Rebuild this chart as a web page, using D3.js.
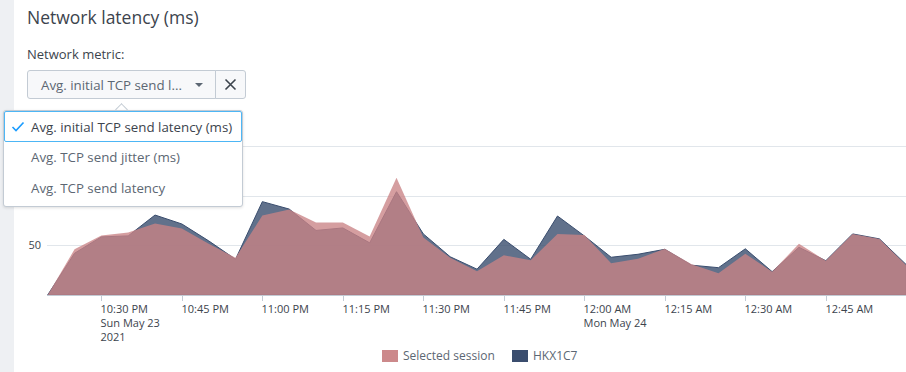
<!DOCTYPE html>
<html>
<head>
<meta charset="utf-8">
<script src="https://cdn.jsdelivr.net/npm/d3@7"></script>
<style>
body { margin: 0; width: 906px; height: 372px; overflow: hidden; background: #fff;
       font-family: "Open Sans", "Liberation Sans", sans-serif; color: #3c444d; position: relative; }
#strip { position: absolute; left: 0; top: 0; width: 14px; height: 372px; background: #eef0f3; }
#title { position: absolute; left: 27px; top: 5px; font-size: 17.5px; color: #3c444d; }
#metricLabel { position: absolute; left: 27px; top: 45px; font-size: 13px; color: #3c444d; }
.btn { position: absolute; top: 70px; height: 29px; border: 1px solid #c3cbd4; background: #f7f8fa;
       box-sizing: border-box; font-size: 13.3px; color: #5c6773; }
#select { left: 27px; width: 189px; border-radius: 3px 0 0 3px; }
#select span.t { position: absolute; left: 13px; top: 5px; }
#select span.c { position: absolute; left: 167px; top: 12px; width: 0; height: 0;
                 border-left: 4px solid transparent; border-right: 4px solid transparent; border-top: 4px solid #5c6773; }
#clear { left: 215px; width: 31px; border-radius: 0 3px 3px 0; }
#popup { position: absolute; left: 3px; top: 110px; width: 240px; height: 97px; box-sizing: border-box;
         background: #fff; border: 1px solid #c3cbd4; border-radius: 3px; box-shadow: 0 1px 3px rgba(0,0,0,0.12); }
#arrow { position: absolute; left: 117px; top: 105px; width: 8px; height: 8px; background: #fff;
         border-left: 1px solid #c3cbd4; border-top: 1px solid #c3cbd4; transform: rotate(45deg); }
.item { position: absolute; left: 0px; width: 238px; height: 31px; box-sizing: border-box;
        font-size: 13.3px; color: #5c6773; padding: 6px 0 0 27px; }
.item.sel { border: 1px solid #4db6f5; border-radius: 2px; color: #3c444d; padding-left: 26px; }
svg { position: absolute; left: 0; top: 0; }
</style>
</head>
<body>
<div id="strip"></div>
<svg id="chart" width="906" height="372"></svg>
<div id="title">Network latency (ms)</div>
<div id="metricLabel">Network metric:</div>
<div class="btn" id="select"><span class="t">Avg. initial TCP send l...</span><span class="c"></span></div>
<div class="btn" id="clear"><svg width="29" height="27" style="position:absolute;left:0;top:0">
  <path d="M9.5 8.5 L19.5 18.5 M19.5 8.5 L9.5 18.5" stroke="#3c444d" stroke-width="1.6"/></svg></div>
<div id="arrow"></div>
<div id="popup"></div>
<script>
// time buckets (5 min)
var times = ["2021-05-23 22:20","2021-05-23 22:25","2021-05-23 22:30","2021-05-23 22:35","2021-05-23 22:40",
  "2021-05-23 22:45","2021-05-23 22:50","2021-05-23 22:55","2021-05-23 23:00","2021-05-23 23:05",
  "2021-05-23 23:10","2021-05-23 23:15","2021-05-23 23:20","2021-05-23 23:25","2021-05-23 23:30",
  "2021-05-23 23:35","2021-05-23 23:40","2021-05-23 23:45","2021-05-23 23:50","2021-05-23 23:55",
  "2021-05-24 00:00","2021-05-24 00:05","2021-05-24 00:10","2021-05-24 00:15","2021-05-24 00:20",
  "2021-05-24 00:25","2021-05-24 00:30","2021-05-24 00:35","2021-05-24 00:40","2021-05-24 00:45",
  "2021-05-24 00:50","2021-05-24 00:55","2021-05-24 01:00"];
var selectedSession = [0, 46, 60, 63, 72, 67, 51.5, 37.5, 80, 86, 73, 73, 59, 118, 58, 37.5, 24, 40, 35, 61.5,
  60.5, 32, 36.5, 46.5, 31, 22, 41.5, 23.5, 51.5, 34.5, 61.5, 56.5, 30];
var hkx1c7 = [0, 42, 58.5, 59.5, 80.5, 71.5, 54.5, 36, 94, 86.5, 65, 67.5, 52.5, 104, 61.5, 38.5, 26, 56, 36, 79.5,
  59.5, 38, 41, 46, 30, 27.5, 46.5, 23.5, 48, 34.5, 61.5, 56.5, 30.5];
var gridValues = [50, 100, 150];
var yLabels = [50]; // 100 and 150 sit under the open menu
var seriesNames = ["Selected session", "HKX1C7"];
var seriesColors = ["#c98385", "#3a4d6e"];
var menuItems = ["Avg. initial TCP send latency (ms)", "Avg. TCP send jitter (ms)", "Avg. TCP send latency"];

var parse = d3.timeParse("%Y-%m-%d %H:%M");
var dates = times.map(parse);

var svg = d3.select("#chart");
var x = d3.scaleTime().domain([dates[0], dates[dates.length - 1]]).range([47.7, 906.3]);
var y = d3.scaleLinear().domain([0, 150]).range([295, 146]);

// gridlines + y labels
var grid = svg.append("g");
grid.selectAll("line").data(gridValues).join("line")
  .attr("x1", 47).attr("x2", 906)
  .attr("y1", function(d) { return Math.round(y(d)) + 0.5; }).attr("y2", function(d) { return Math.round(y(d)) + 0.5; })
  .attr("stroke", "#e1e6eb").attr("stroke-width", 1);
grid.selectAll("text").data(yLabels).join("text")
  .attr("x", 41).attr("y", function(d) { return y(d); }).attr("dy", "0.35em")
  .attr("text-anchor", "end").attr("font-size", 11).attr("fill", "#3c444d")
  .text(function(d) { return d; });

// areas: dark first, pink over it
var area = function(vals) {
  return d3.area()
    .x(function(d, i) { return x(dates[i]); })
    .y0(y(0))
    .y1(function(d) { return y(d); })(vals);
};
svg.append("path").attr("d", area(hkx1c7))
  .attr("fill", seriesColors[1]).attr("fill-opacity", 0.8)
  .attr("stroke", seriesColors[1]).attr("stroke-width", 1);
svg.append("path").attr("d", area(selectedSession))
  .attr("fill", seriesColors[0]).attr("fill-opacity", 0.78);

// x axis
var end = dates[dates.length - 1];
var xTicks = x.ticks(d3.timeMinute.every(15)).filter(function(d) { return d < end; });
var fmt = d3.timeFormat("%-I:%M %p");
var xa = svg.append("g");
xa.append("line").attr("x1", 47).attr("x2", 906).attr("y1", 295.5).attr("y2", 295.5)
  .attr("stroke", "#c3cbd4");
var tk = xa.selectAll("g").data(xTicks).join("g")
  .attr("transform", function(d) { return "translate(" + Math.round(x(d)) + ".5,0)"; });
tk.append("line").attr("y1", 295).attr("y2", 301).attr("stroke", "#c3cbd4");
tk.append("text").attr("x", -1).attr("y", 313).attr("font-size", 11).attr("fill", "#3c444d")
  .each(function(d, i) {
    var lines = [fmt(d)];
    if (i === 0) { lines.push(d3.timeFormat("%a %b %-d")(d)); lines.push(d3.timeFormat("%Y")(d)); }
    else if (d.getHours() === 0 && d.getMinutes() === 0) lines.push(d3.timeFormat("%a %b %-d")(d));
    d3.select(this).selectAll("tspan").data(lines).join("tspan")
      .attr("x", -1).attr("dy", function(l, j) { return j ? 14 : 0; }).text(function(l) { return l; });
  });

// legend
var lg = svg.append("g");
var lx = [382, 512];
seriesNames.forEach(function(n, i) {
  lg.append("rect").attr("x", lx[i]).attr("y", 350).attr("width", 16).attr("height", 12)
    .attr("fill", seriesColors[i]).attr("fill-opacity", i ? 1 : 0.95);
  lg.append("text").attr("x", lx[i] + 21).attr("y", 356).attr("dy", "0.35em")
    .attr("font-size", 12).attr("fill", "#5c6773").text(n);
});

// dropdown menu
var pop = d3.select("#popup");
menuItems.forEach(function(m, i) {
  var it = pop.append("div").attr("class", "item" + (i === 0 ? " sel" : ""))
    .style("top", (i * 31) + "px").text(m);
  if (i === 0) {
    it.append("svg").attr("width", 14).attr("height", 12)
      .style("left", "6px").style("top", "9px")
      .append("path").attr("d", "M1.5 6 L5 9.5 L12.5 1.5").attr("fill", "none")
      .attr("stroke", "#1a9cff").attr("stroke-width", 1.6);
  }
});
</script>
</body>
</html>
